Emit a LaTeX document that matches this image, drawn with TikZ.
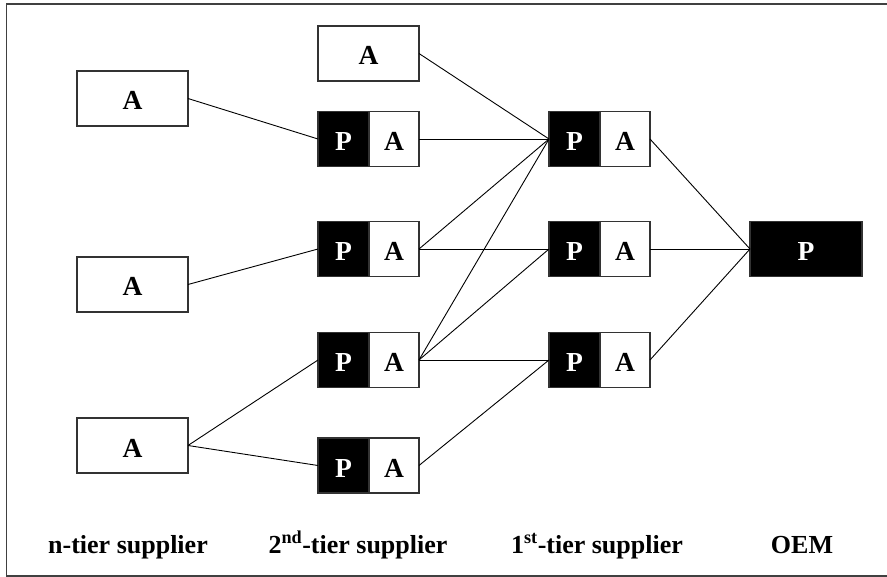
\documentclass[tikz,border=0pt]{standalone}
\usepackage{fontspec}
\setmainfont{Liberation Serif}
\begin{document}
\begin{tikzpicture}[x=1pt,y=-1pt,
  every node/.style={font=\fontsize{26}{30}\selectfont\bfseries, inner sep=0pt, outer sep=0pt},
  boxtext/.style={font=\fontsize{27.5}{30}\selectfont\bfseries, text height=23pt, text depth=0pt},
  abox/.style={boxtext, draw=black!80, line width=1.1pt, fill=white, minimum height=55pt},
  pbox/.style={boxtext, draw=black!80, line width=1.1pt, fill=black, text=white, minimum height=55pt},
  link/.style={line width=0.9pt, black},
  tierlabel/.style={anchor=base}]
\useasboundingbox (0,0) rectangle (887,577);
% outer frame (open on the right)
\draw[line width=1.4pt, black!75] (887,4) -- (6.5,4) -- (6.5,576) -- (887,576);

% n-tier suppliers
\node[abox, minimum width=111pt] (n1) at (132.5,98.5) {A};
\node[abox, minimum width=111pt] (n2) at (132.5,284.5) {A};
\node[abox, minimum width=111pt] (n3) at (132.5,445.5) {A};

% 2nd-tier suppliers
\node[abox, minimum width=101pt] (s0) at (368.5,53.5) {A};
\node[pbox, minimum width=51pt] (s1p) at (343.5,139) {P};
\node[abox, minimum width=50pt] (s1a) at (394,139) {A};
\node[pbox, minimum width=51pt] (s2p) at (343.5,249) {P};
\node[abox, minimum width=50pt] (s2a) at (394,249) {A};
\node[pbox, minimum width=51pt] (s3p) at (343.5,360) {P};
\node[abox, minimum width=50pt] (s3a) at (394,360) {A};
\node[pbox, minimum width=51pt] (s4p) at (343.5,465.5) {P};
\node[abox, minimum width=50pt] (s4a) at (394,465.5) {A};

% 1st-tier suppliers
\node[pbox, minimum width=51pt] (f1p) at (574.5,139) {P};
\node[abox, minimum width=50pt] (f1a) at (625,139) {A};
\node[pbox, minimum width=51pt] (f2p) at (574.5,249) {P};
\node[abox, minimum width=50pt] (f2a) at (625,249) {A};
\node[pbox, minimum width=51pt] (f3p) at (574.5,360) {P};
\node[abox, minimum width=50pt] (f3a) at (625,360) {A};

% OEM
\node[pbox, minimum width=112pt] (oem) at (806,249) {P};

% links
\draw[link] (n1.east) -- (s1p.west);
\draw[link] (n2.east) -- (s2p.west);
\draw[link] (n3.east) -- (s3p.west);
\draw[link] (n3.east) -- (s4p.west);
\draw[link] (s0.east) -- (f1p.west);
\draw[link] (s1a.east) -- (f1p.west);
\draw[link] (s2a.east) -- (f1p.west);
\draw[link] (s2a.east) -- (f2p.west);
\draw[link] (s3a.east) -- (f1p.west);
\draw[link] (s3a.east) -- (f2p.west);
\draw[link] (s3a.east) -- (f3p.west);
\draw[link] (s4a.east) -- (f3p.west);
\draw[link] (f1a.east) -- (oem.west);
\draw[link] (f2a.east) -- (oem.west);
\draw[link] (f3a.east) -- (oem.west);

% tier captions
\node[tierlabel] (ln) at (128,553) {n-tier supplier};
\node[tierlabel] (l2) at (358,553) {2\textsuperscript{nd}-tier supplier};
\node[tierlabel] (l1) at (597,553) {1\textsuperscript{st}-tier supplier};
\node[tierlabel] (lo) at (802,553) {OEM};
\end{tikzpicture}
\end{document}
